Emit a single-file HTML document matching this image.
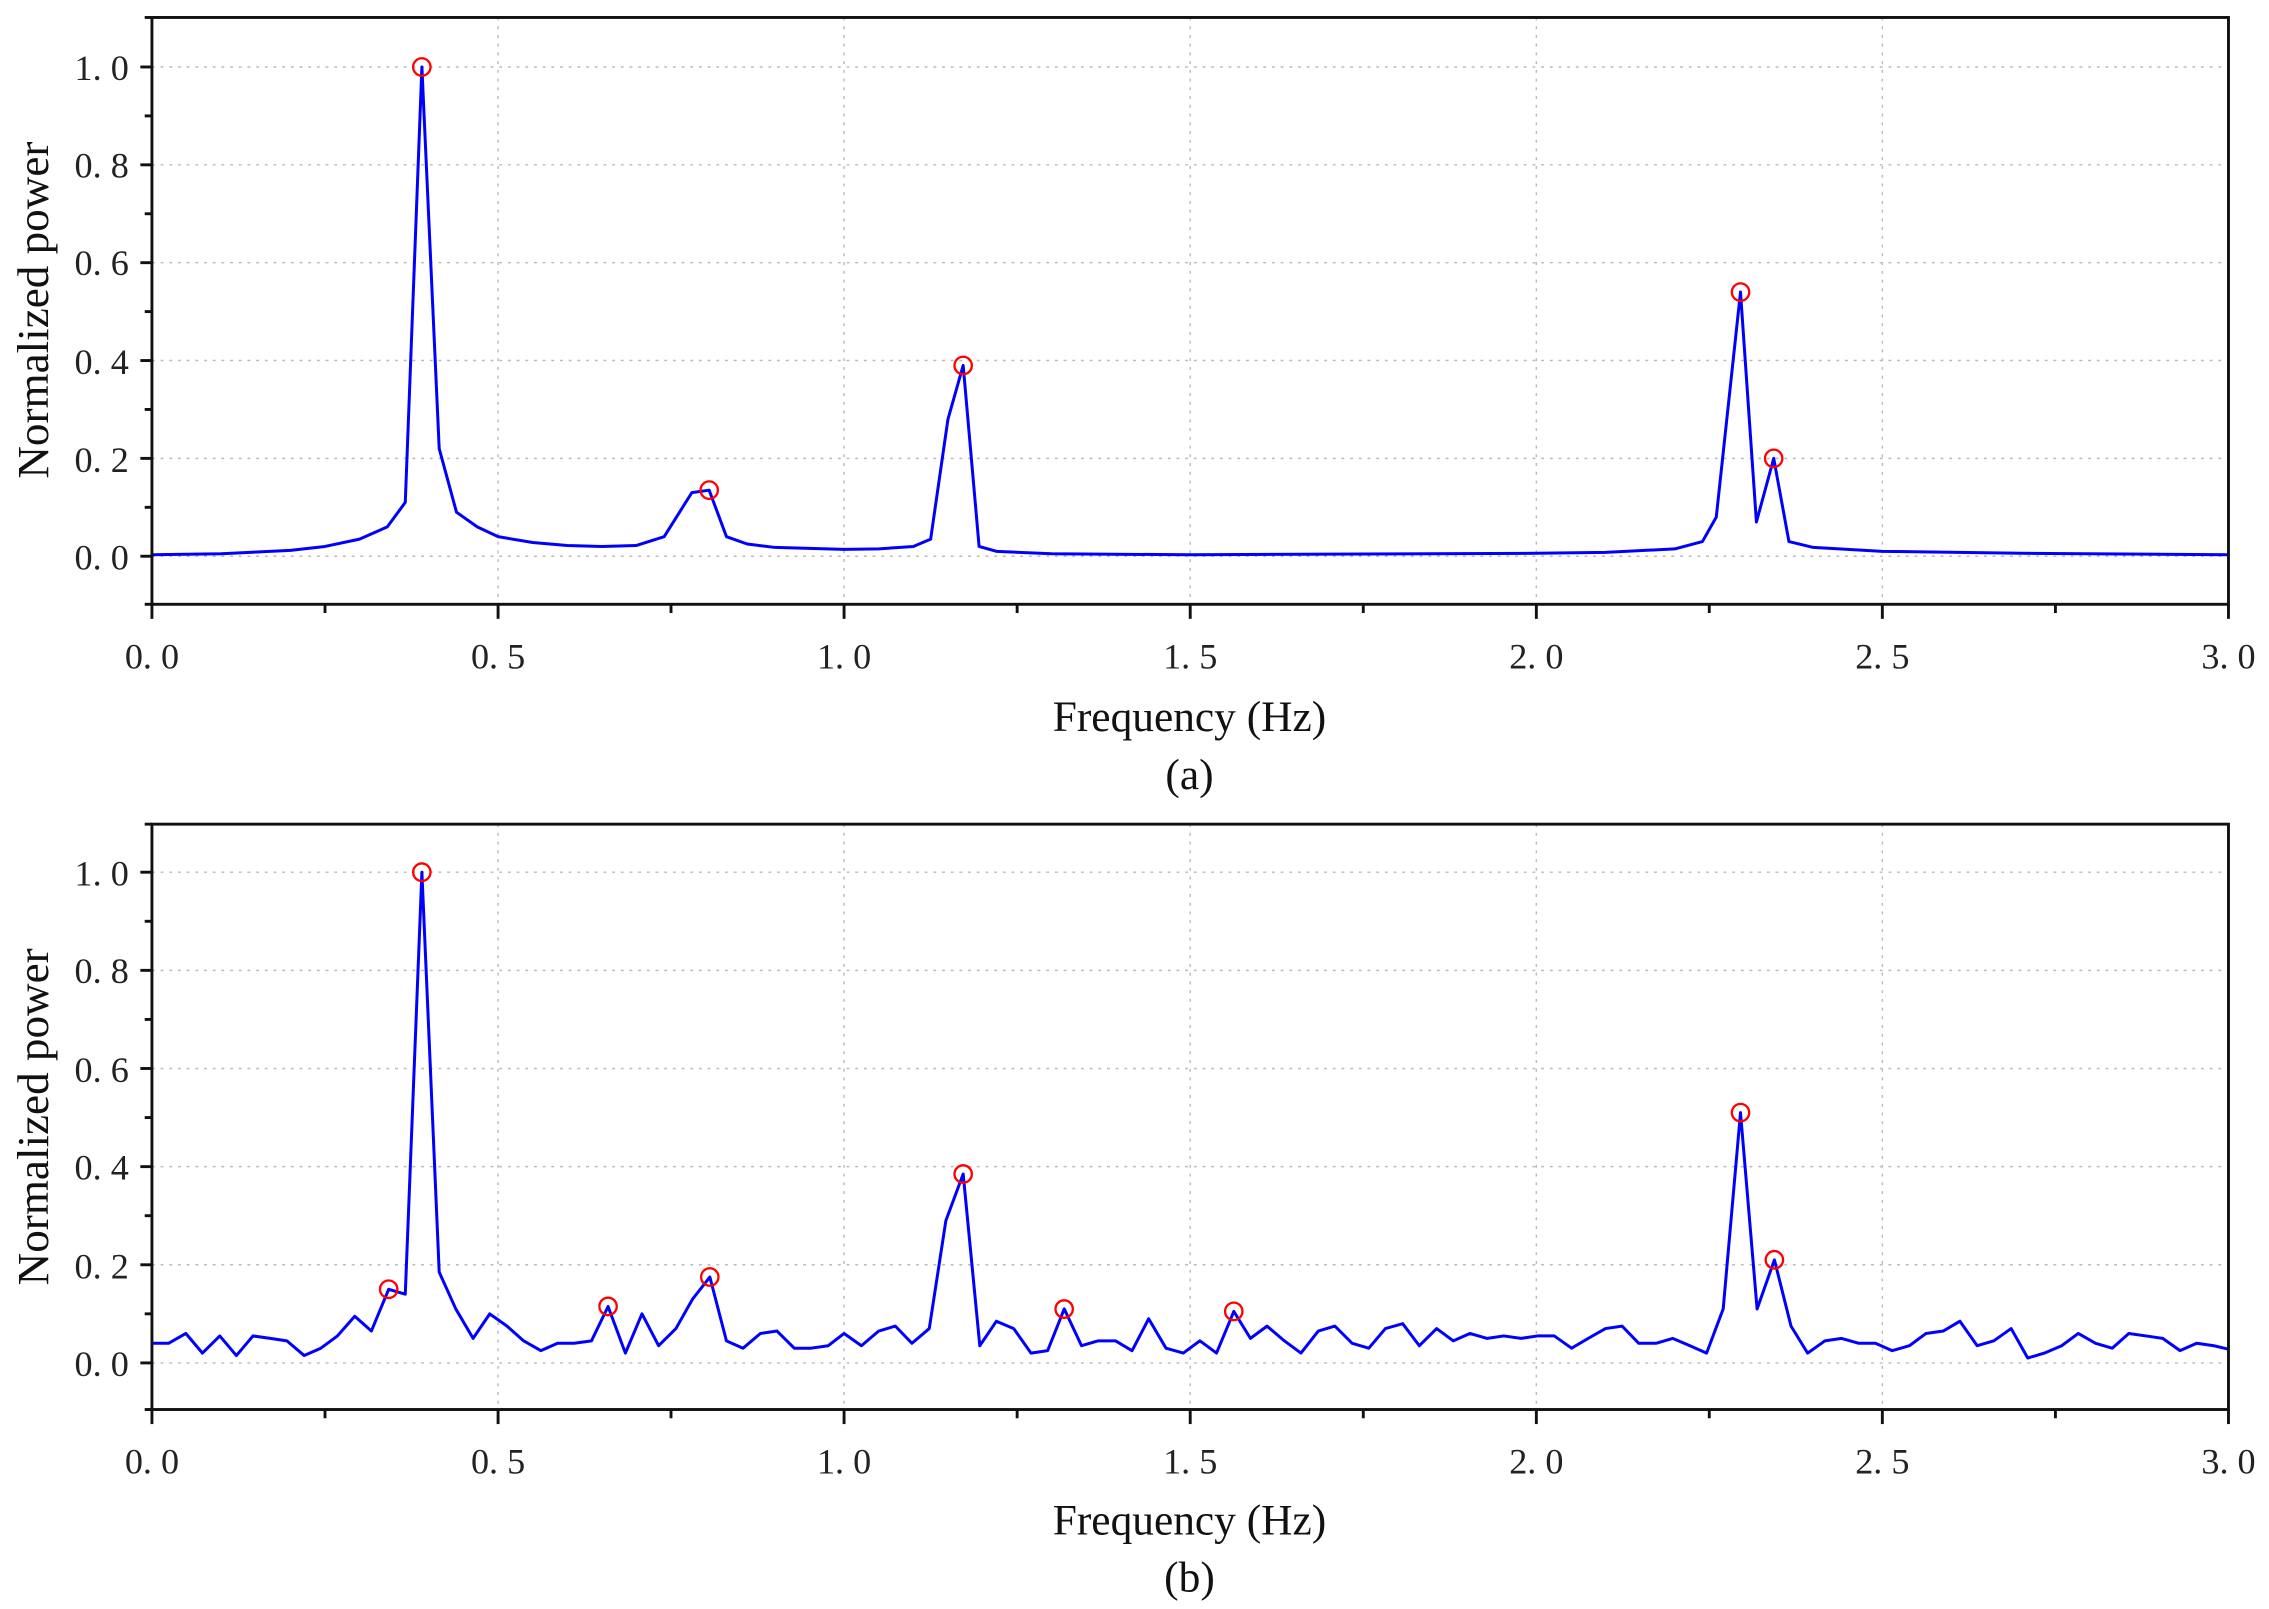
<!DOCTYPE html>
<html><head><meta charset="utf-8">
<style>html,body{margin:0;padding:0;background:#fff;}svg{display:block;}</style>
</head><body>
<svg width="2269" height="1609" viewBox="0 0 1568 1105" preserveAspectRatio="none" xmlns="http://www.w3.org/2000/svg" font-family="'Liberation Serif', serif">
<rect width="1568" height="1105" fill="#fff"/>
<!-- ===== Panel A ===== -->
<g stroke="#bbb" stroke-width="1" stroke-dasharray="2,4">
<line x1="105" x2="1540" y1="46" y2="46"/><line x1="105" x2="1540" y1="113.2" y2="113.2"/><line x1="105" x2="1540" y1="180.4" y2="180.4"/><line x1="105" x2="1540" y1="247.6" y2="247.6"/><line x1="105" x2="1540" y1="314.8" y2="314.8"/><line x1="105" x2="1540" y1="382" y2="382"/>
<line y1="12" y2="415" x1="344.2" x2="344.2"/><line y1="12" y2="415" x1="583.3" x2="583.3"/><line y1="12" y2="415" x1="822.5" x2="822.5"/><line y1="12" y2="415" x1="1061.7" x2="1061.7"/><line y1="12" y2="415" x1="1300.8" x2="1300.8"/>
</g>
<g transform="translate(105,382) scale(478.333,-336)">
<polyline fill="none" stroke="#0000ff" stroke-width="3" vector-effect="non-scaling-stroke" stroke-linejoin="round" points="0,0.003 0.1,0.005 0.2,0.012 0.25,0.02 0.3,0.035 0.34,0.06 0.366,0.11 0.39,1.0 0.415,0.22 0.44,0.09 0.47,0.06 0.5,0.04 0.55,0.028 0.6,0.022 0.65,0.02 0.7,0.022 0.74,0.04 0.78,0.13 0.805,0.135 0.83,0.04 0.86,0.025 0.9,0.018 1.0,0.014 1.05,0.015 1.1,0.02 1.125,0.035 1.15,0.28 1.172,0.39 1.195,0.02 1.22,0.01 1.3,0.005 1.5,0.003 2.0,0.006 2.1,0.008 2.2,0.015 2.24,0.03 2.26,0.08 2.295,0.54 2.318,0.07 2.343,0.2 2.365,0.03 2.4,0.018 2.5,0.01 2.7,0.006 3.0,0.003"/>
</g>
<g fill="none" stroke="#ff0000" stroke-width="1.6">
<circle cx="291.5" cy="46" r="6"/><circle cx="490.1" cy="336.6" r="6"/><circle cx="665.6" cy="251" r="6"/><circle cx="1202.8" cy="200.6" r="6"/><circle cx="1225.7" cy="314.8" r="6"/>
</g>
<rect x="105" y="12" width="1435" height="403" fill="none" stroke="#111" stroke-width="2"/>
<g stroke="#111" stroke-width="2">
<line x1="97" x2="105" y1="46" y2="46"/><line x1="97" x2="105" y1="113.2" y2="113.2"/><line x1="97" x2="105" y1="180.4" y2="180.4"/><line x1="97" x2="105" y1="247.6" y2="247.6"/><line x1="97" x2="105" y1="314.8" y2="314.8"/><line x1="97" x2="105" y1="382" y2="382"/>
<line x1="100" x2="105" y1="12" y2="12"/><line x1="100" x2="105" y1="79.6" y2="79.6"/><line x1="100" x2="105" y1="146.8" y2="146.8"/><line x1="100" x2="105" y1="214" y2="214"/><line x1="100" x2="105" y1="281.2" y2="281.2"/><line x1="100" x2="105" y1="348.4" y2="348.4"/><line x1="100" x2="105" y1="415" y2="415"/>
<line x1="105" x2="105" y1="415" y2="425"/><line x1="344.2" x2="344.2" y1="415" y2="425"/><line x1="583.3" x2="583.3" y1="415" y2="425"/><line x1="822.5" x2="822.5" y1="415" y2="425"/><line x1="1061.7" x2="1061.7" y1="415" y2="425"/><line x1="1300.8" x2="1300.8" y1="415" y2="425"/><line x1="1540" x2="1540" y1="415" y2="425"/>
<line x1="224.6" x2="224.6" y1="415" y2="421"/><line x1="463.7" x2="463.7" y1="415" y2="421"/><line x1="702.9" x2="702.9" y1="415" y2="421"/><line x1="942.1" x2="942.1" y1="415" y2="421"/><line x1="1181.2" x2="1181.2" y1="415" y2="421"/><line x1="1420.4" x2="1420.4" y1="415" y2="421"/>
</g>
<g font-size="25" fill="#222" text-anchor="end">
<text x="89" y="55">1. 0</text><text x="89" y="122">0. 8</text><text x="89" y="189">0. 6</text><text x="89" y="257">0. 4</text><text x="89" y="324">0. 2</text><text x="89" y="391">0. 0</text>
</g>
<g font-size="25" fill="#222" text-anchor="middle">
<text x="105" y="459">0. 0</text><text x="344.2" y="459">0. 5</text><text x="583.3" y="459">1. 0</text><text x="822.5" y="459">1. 5</text><text x="1061.7" y="459">2. 0</text><text x="1300.8" y="459">2. 5</text><text x="1540" y="459">3. 0</text>
</g>
<text x="822" y="502" font-size="30" text-anchor="middle" fill="#111">Frequency (Hz)</text>
<text x="822" y="542" font-size="30" text-anchor="middle" fill="#111">(a)</text>
<text transform="translate(33,213) rotate(-90)" font-size="31" text-anchor="middle" fill="#111">Normalized power</text>

<!-- ===== Panel B ===== -->
<g stroke="#bbb" stroke-width="1" stroke-dasharray="2,4">
<line x1="105" x2="1540" y1="599" y2="599"/><line x1="105" x2="1540" y1="666.4" y2="666.4"/><line x1="105" x2="1540" y1="733.8" y2="733.8"/><line x1="105" x2="1540" y1="801.2" y2="801.2"/><line x1="105" x2="1540" y1="868.6" y2="868.6"/><line x1="105" x2="1540" y1="936" y2="936"/>
<line y1="566" y2="968" x1="344.2" x2="344.2"/><line y1="566" y2="968" x1="583.3" x2="583.3"/><line y1="566" y2="968" x1="822.5" x2="822.5"/><line y1="566" y2="968" x1="1061.7" x2="1061.7"/><line y1="566" y2="968" x1="1300.8" x2="1300.8"/>
</g>
<g transform="translate(105,936) scale(478.333,-337)">
<polyline fill="none" stroke="#0000ff" stroke-width="3" vector-effect="non-scaling-stroke" stroke-linejoin="round" points="0,0.04 0.024,0.04 0.049,0.06 0.073,0.02 0.098,0.055 0.122,0.015 0.146,0.055 0.171,0.05 0.195,0.045 0.22,0.015 0.244,0.03 0.268,0.055 0.293,0.095 0.317,0.065 0.342,0.15 0.366,0.14 0.39,1.0 0.415,0.185 0.439,0.11 0.464,0.05 0.488,0.1 0.513,0.075 0.537,0.045 0.562,0.025 0.586,0.04 0.61,0.04 0.635,0.045 0.659,0.115 0.684,0.02 0.708,0.1 0.732,0.035 0.757,0.07 0.781,0.13 0.806,0.175 0.83,0.045 0.854,0.03 0.879,0.06 0.903,0.065 0.928,0.03 0.952,0.03 0.977,0.035 1.0,0.06 1.025,0.035 1.05,0.065 1.074,0.075 1.098,0.04 1.123,0.07 1.147,0.29 1.172,0.385 1.196,0.035 1.22,0.085 1.245,0.07 1.27,0.02 1.294,0.025 1.318,0.11 1.343,0.035 1.367,0.045 1.392,0.045 1.416,0.025 1.44,0.09 1.465,0.03 1.49,0.02 1.514,0.045 1.538,0.02 1.563,0.105 1.587,0.05 1.611,0.075 1.636,0.045 1.66,0.02 1.685,0.065 1.709,0.075 1.734,0.04 1.758,0.03 1.782,0.07 1.807,0.08 1.831,0.035 1.856,0.07 1.88,0.045 1.904,0.06 1.929,0.05 1.953,0.055 1.978,0.05 2.002,0.055 2.026,0.055 2.051,0.03 2.075,0.05 2.1,0.07 2.124,0.075 2.148,0.04 2.173,0.04 2.197,0.05 2.222,0.035 2.246,0.02 2.27,0.11 2.295,0.51 2.319,0.11 2.344,0.21 2.368,0.075 2.392,0.02 2.417,0.045 2.441,0.05 2.466,0.04 2.49,0.04 2.514,0.025 2.539,0.035 2.563,0.06 2.588,0.065 2.612,0.085 2.637,0.035 2.661,0.045 2.686,0.07 2.71,0.01 2.734,0.02 2.759,0.035 2.783,0.06 2.808,0.04 2.832,0.03 2.856,0.06 2.881,0.055 2.905,0.05 2.93,0.025 2.954,0.04 2.979,0.035 3.0,0.028"/>
</g>
<g fill="none" stroke="#ff0000" stroke-width="1.6">
<circle cx="268.6" cy="885.4" r="6"/><circle cx="291.5" cy="599" r="6"/><circle cx="420.2" cy="897.2" r="6"/><circle cx="490.5" cy="877" r="6"/><circle cx="665.6" cy="806.3" r="6"/><circle cx="735.4" cy="899" r="6"/><circle cx="852.6" cy="900.6" r="6"/><circle cx="1202.8" cy="764.1" r="6"/><circle cx="1226.2" cy="865.2" r="6"/>
</g>
<rect x="105" y="566" width="1435" height="402" fill="none" stroke="#111" stroke-width="2"/>
<g stroke="#111" stroke-width="2">
<line x1="97" x2="105" y1="599" y2="599"/><line x1="97" x2="105" y1="666.4" y2="666.4"/><line x1="97" x2="105" y1="733.8" y2="733.8"/><line x1="97" x2="105" y1="801.2" y2="801.2"/><line x1="97" x2="105" y1="868.6" y2="868.6"/><line x1="97" x2="105" y1="936" y2="936"/>
<line x1="100" x2="105" y1="566" y2="566"/><line x1="100" x2="105" y1="632.7" y2="632.7"/><line x1="100" x2="105" y1="700.1" y2="700.1"/><line x1="100" x2="105" y1="767.5" y2="767.5"/><line x1="100" x2="105" y1="834.9" y2="834.9"/><line x1="100" x2="105" y1="902.3" y2="902.3"/><line x1="100" x2="105" y1="968" y2="968"/>
<line x1="105" x2="105" y1="968" y2="978"/><line x1="344.2" x2="344.2" y1="968" y2="978"/><line x1="583.3" x2="583.3" y1="968" y2="978"/><line x1="822.5" x2="822.5" y1="968" y2="978"/><line x1="1061.7" x2="1061.7" y1="968" y2="978"/><line x1="1300.8" x2="1300.8" y1="968" y2="978"/><line x1="1540" x2="1540" y1="968" y2="978"/>
<line x1="224.6" x2="224.6" y1="968" y2="974"/><line x1="463.7" x2="463.7" y1="968" y2="974"/><line x1="702.9" x2="702.9" y1="968" y2="974"/><line x1="942.1" x2="942.1" y1="968" y2="974"/><line x1="1181.2" x2="1181.2" y1="968" y2="974"/><line x1="1420.4" x2="1420.4" y1="968" y2="974"/>
</g>
<g font-size="25" fill="#222" text-anchor="end">
<text x="89" y="608">1. 0</text><text x="89" y="675">0. 8</text><text x="89" y="743">0. 6</text><text x="89" y="810">0. 4</text><text x="89" y="878">0. 2</text><text x="89" y="945">0. 0</text>
</g>
<g font-size="25" fill="#222" text-anchor="middle">
<text x="105" y="1012">0. 0</text><text x="344.2" y="1012">0. 5</text><text x="583.3" y="1012">1. 0</text><text x="822.5" y="1012">1. 5</text><text x="1061.7" y="1012">2. 0</text><text x="1300.8" y="1012">2. 5</text><text x="1540" y="1012">3. 0</text>
</g>
<text x="822" y="1054" font-size="30" text-anchor="middle" fill="#111">Frequency (Hz)</text>
<text x="822" y="1093" font-size="30" text-anchor="middle" fill="#111">(b)</text>
<text transform="translate(33,767) rotate(-90)" font-size="31" text-anchor="middle" fill="#111">Normalized power</text>
</svg>
</body></html>
